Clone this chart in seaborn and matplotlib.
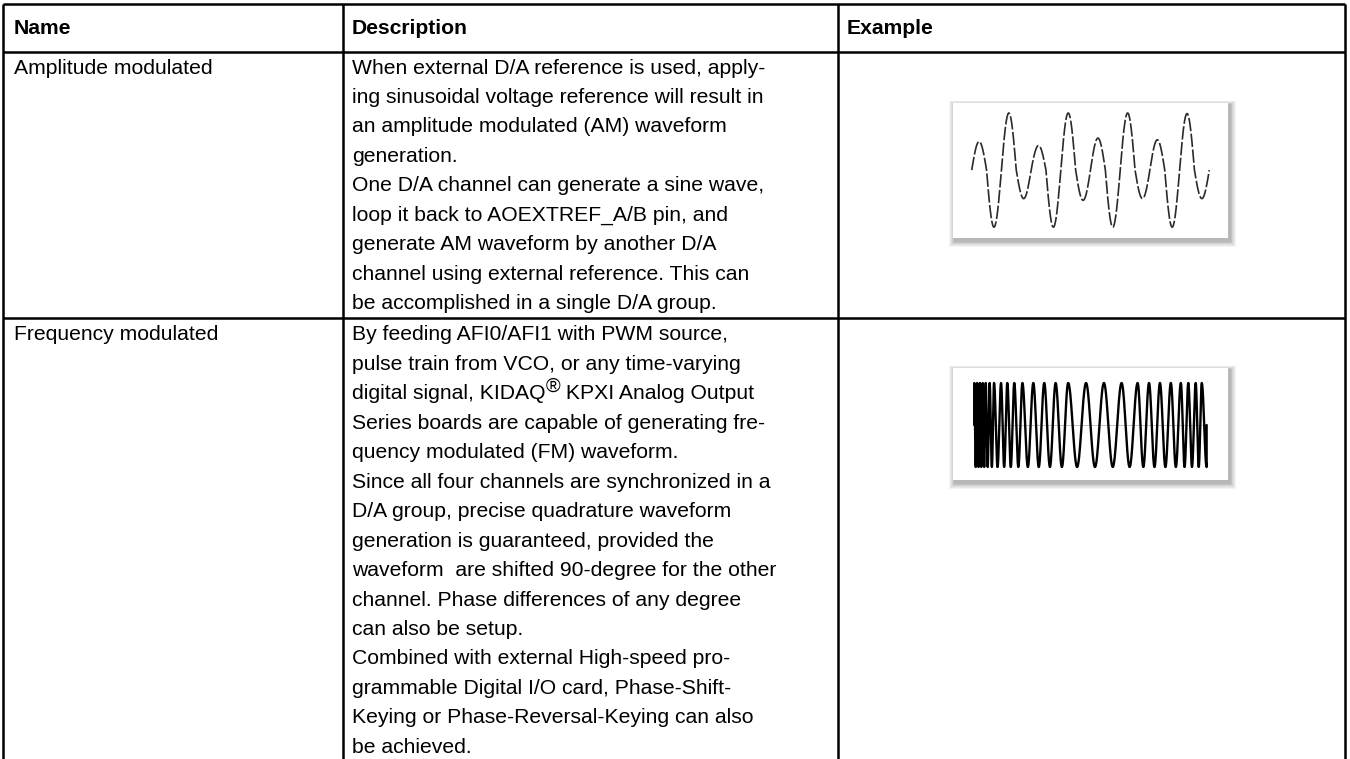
import numpy as np
import pandas as pd
import matplotlib
matplotlib.use("Agg")
import matplotlib.pyplot as plt
from matplotlib.patches import Rectangle
import seaborn as sns

# ---------------- data ----------------
headers = ["Name", "Description", "Example"]
names = ["Amplitude modulated", "Frequency modulated"]
desc_am = [
    "When external D/A reference is used, apply-",
    "ing sinusoidal voltage reference will result in",
    "an amplitude modulated (AM) waveform",
    "generation.",
    "One D/A channel can generate a sine wave,",
    "loop it back to AOEXTREF_A/B pin, and",
    "generate AM waveform by another D/A",
    "channel using external reference. This can",
    "be accomplished in a single D/A group.",
]
desc_fm = [
    "By feeding AFI0/AFI1 with PWM source,",
    "pulse train from VCO, or any time-varying",
    ["digital signal, KIDAQ", "®", " KPXI Analog Output"],
    "Series boards are capable of generating fre-",
    "quency modulated (FM) waveform.",
    "Since all four channels are synchronized in a",
    "D/A group, precise quadrature waveform",
    "generation is guaranteed, provided the",
    "waveform  are shifted 90-degree for the other",
    "channel. Phase differences of any degree",
    "can also be setup.",
    "Combined with external High-speed pro-",
    "grammable Digital I/O card, Phase-Shift-",
    "Keying or Phase-Reversal-Keying can also",
    "be achieved.",
]
# AM example: extreme value of each successive half-cycle
am_extremes = [0.5, -1.0, 1.0, -0.5, 0.43, -1.0, 1.0, -0.53, 0.56, -1.0,
               1.0, -0.5, 0.53, -1.0, 0.99, -0.5]
# FM example: time positions of the peaks (0..100 across the trace)
fm_peaks = [0.0, 1.2, 2.4, 3.6, 4.9, 6.6, 8.5, 11.5, 14.2, 17.2, 20.7, 25.4,
            30.1, 35.0, 40.4, 48.1, 55.8, 63.4, 70.3, 75.2, 79.9, 84.6, 88.9,
            92.1, 95.3, 97.9]
fm_end = 100.0

# ---------------- style ----------------
sns.set_theme(style="white")
plt.rcParams['font.family'] = ['Liberation Sans', 'DejaVu Sans']
plt.rcParams['text.color'] = 'black'

W, H = 1350, 759
fig = plt.figure(figsize=(W / 100, H / 100), dpi=100)
ax = fig.add_axes([0, 0, 1, 1])
ax.set_xlim(0, W)
ax.set_ylim(H, 0)
ax.axis('off')

# layout (pixels)
col_x = [3, 343, 838, 1345]
top_y, head_y, row_y = 4, 52, 318
lw = 1.8
ax.hlines([top_y, head_y, row_y], col_x[0], col_x[-1], color='black', lw=lw)
ax.vlines(col_x, top_y, H, color='black', lw=lw)

fs = 15.2
text_x = [14, 352, 847]
for x, h in zip(text_x, headers):
    ax.text(x, 33.5, h, fontsize=fs, fontweight='bold', va='baseline',
            ha='left', color='black')

renderer = fig.canvas.get_renderer()
inv = ax.transData.inverted()

line_h = 29.45
row_base = [73.5, 340.5]
for r, (nm, lines) in enumerate(zip(names, [desc_am, desc_fm])):
    ax.text(text_x[0], row_base[r], nm, fontsize=fs, va='baseline',
            ha='left', color='black')
    for i, ln in enumerate(lines):
        y = row_base[r] + i * line_h
        if isinstance(ln, list):
            x = text_x[1]
            for j, part in enumerate(ln):
                sup = (part == "®")
                t = ax.text(x, y - (8 if sup else 0), part,
                            fontsize=fs * (0.95 if sup else 1.0),
                            va='baseline', ha='left', color='black')
                bb = t.get_window_extent(renderer)
                x = inv.transform((bb.x1, bb.y0))[0]
        else:
            ax.text(text_x[1], y, ln, fontsize=fs, va='baseline', ha='left',
                    color='black')

# ---------------- example images ----------------
def box_axes(x0, y0, x1, y1):
    # drop shadow in pixel space
    for k in range(7, 0, -1):
        ax.add_patch(Rectangle((x0 - k * 0.8 + 2, y0 - k * 0.6 + 2),
                               (x1 - x0) + k * 1.6, (y1 - y0) + k * 1.4 + 1,
                               facecolor='black', edgecolor='none',
                               alpha=0.045, zorder=1))
    a = fig.add_axes([x0 / W, 1 - y1 / H, (x1 - x0) / W, (y1 - y0) / H])
    a.set_facecolor('white')
    a.set_xticks([])
    a.set_yticks([])
    for s in a.spines.values():
        s.set_visible(False)
    return a

# AM trace
t_all, v_all = [], []
for i, A in enumerate(am_extremes):
    t = np.linspace(i - 0.5, i + 0.5, 40)
    t_all.append(t)
    v_all.append(A * np.cos(np.pi * (t - i)))
am_df = pd.DataFrame({'t': np.concatenate(t_all), 'v': np.concatenate(v_all)})

ax_am = box_axes(953, 103, 1228, 238)
sns.lineplot(data=am_df, x='t', y='v', sort=False, estimator=None, ax=ax_am,
             color='#2a2a2a', lw=1.2, linestyle=(0, (8, 1.5)))
ax_am.set_xlim(-1.76, len(am_extremes) - 0.5 + 1.26)
ax_am.set_ylim(-1.19, 1.175)
ax_am.set_xlabel('')
ax_am.set_ylabel('')

# FM trace
t_all, v_all = [np.array([fm_peaks[0]])], [np.array([0.0])]
for p0, p1 in zip(fm_peaks[:-1], fm_peaks[1:]):
    t = np.linspace(p0, p1, 60)
    t_all.append(t)
    v_all.append(np.cos(2 * np.pi * (t - p0) / (p1 - p0)))
t = np.linspace(fm_peaks[-1], fm_end, 30)
t_all.append(t)
v_all.append(np.cos(np.pi * (t - fm_peaks[-1]) / (fm_end - fm_peaks[-1])))
t_all.append(np.array([fm_end]))
v_all.append(np.array([0.0]))
fm_df = pd.DataFrame({'t': np.concatenate(t_all), 'v': np.concatenate(v_all)})

# box 368-480 px, trace peak 383, midline 425, trough 467
ax_fm = box_axes(953, 368, 1228, 480)
ax_fm.axhline(0, color='#bbbbbb', lw=0.6, xmin=0.08, xmax=0.92)
sns.lineplot(data=fm_df, x='t', y='v', sort=False, estimator=None, ax=ax_fm,
             color='black', lw=1.7)
ax_fm.set_xlim(-9.17, fm_end + 9.2)
ax_fm.set_ylim(-(480 - 425) / 42, (425 - 368) / 42)
ax_fm.set_xlabel('')
ax_fm.set_ylabel('')

fig.savefig('out.png', dpi=100)
